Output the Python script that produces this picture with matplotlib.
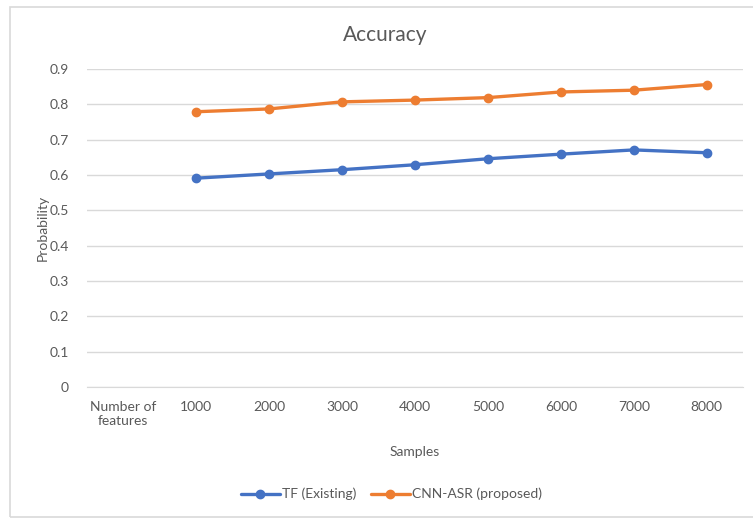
import matplotlib
matplotlib.use("Agg")
import matplotlib.pyplot as plt
from matplotlib.patches import Rectangle

# Accuracy per sample count for both methods
categories = ["Number of\nfeatures", "1000", "2000", "3000", "4000",
              "5000", "6000", "7000", "8000"]
tf_existing = [None, 0.591, 0.603, 0.615, 0.629, 0.646, 0.659, 0.671, 0.663]
cnn_asr = [None, 0.779, 0.787, 0.807, 0.812, 0.819, 0.835, 0.840, 0.856]
y_ticks = [0, 0.1, 0.2, 0.3, 0.4, 0.5, 0.6, 0.7, 0.8, 0.9]

plt.rcParams["font.family"] = ["Lato", "DejaVu Sans"]
text_color = "#595959"

fig = plt.figure(figsize=(7.53, 5.18), dpi=100)
ax = fig.add_axes([0.115, 0.2529, 0.872, 0.6139])

# light frame around the whole chart
fig.patches.append(Rectangle((10 / 753, 1 / 518), 1.0, 1 - 8 / 518,
                             transform=fig.transFigure, fill=False,
                             edgecolor="#d9d9d9", linewidth=1.2))

x = list(range(len(categories)))
xs = [i for i, v in zip(x, tf_existing) if v is not None]
ax.plot(xs, [v for v in tf_existing if v is not None], color="#4472C4",
        linewidth=2.4, marker="o", markersize=6, label="TF (Existing)",
        solid_capstyle="round")
ax.plot(xs, [v for v in cnn_asr if v is not None], color="#ED7D31",
        linewidth=2.4, marker="o", markersize=6, label="CNN-ASR (proposed)",
        solid_capstyle="round")

ax.set_xlim(-0.5, len(categories) - 0.5)
ax.set_ylim(0, 0.9)
ax.set_xticks(x)
ax.set_xticklabels(categories)
ax.set_yticks(y_ticks)
ax.set_yticklabels(["0"] + [f"{t:.1f}" for t in y_ticks[1:]])
ax.grid(axis="y", color="#d9d9d9", linewidth=1)
ax.set_axisbelow(True)
for side in ["top", "right", "left"]:
    ax.spines[side].set_visible(False)
ax.spines["bottom"].set_color("#d9d9d9")
ax.tick_params(length=0, labelsize=10, colors=text_color)
ax.tick_params(axis="y", pad=13)
ax.tick_params(axis="x", pad=10)

fig.text(0.511, 0.932, "Accuracy", fontsize=15, color=text_color,
         ha="center", va="center")
ax.set_ylabel("Probability", fontsize=10, color=text_color, labelpad=0)
ax.set_xlabel("Samples", fontsize=10, color=text_color, labelpad=14)

leg = fig.legend(loc="center", bbox_to_anchor=(0.52, 0.046), ncol=2,
                 frameon=False, fontsize=10, handlelength=2.8,
                 columnspacing=1.0, handletextpad=0.2)
for t in leg.get_texts():
    t.set_color(text_color)

fig.savefig("out.png", dpi=100)
